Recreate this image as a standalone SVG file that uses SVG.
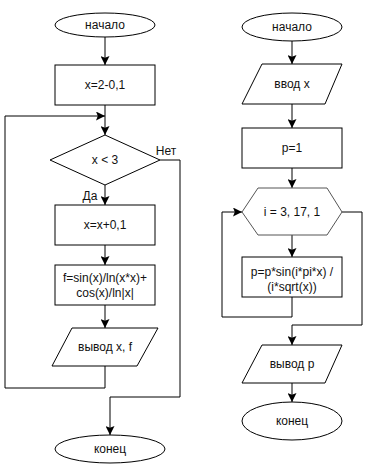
<svg xmlns="http://www.w3.org/2000/svg" width="375" height="469" viewBox="0 0 375 469">
<style>
.s{fill:#fff;stroke:#000;stroke-width:1}
.h{fill:#fff;stroke:#555;stroke-width:1}
.c{fill:none;stroke:#000;stroke-width:1}
text{font-family:"Liberation Sans",Arial,sans-serif;font-size:12px;fill:#111;text-anchor:middle;dominant-baseline:central}
</style>
<defs>
<marker id="a" markerUnits="userSpaceOnUse" markerWidth="9" markerHeight="9" viewBox="0 0 10 10" refX="10" refY="5" orient="auto">
<path d="M0,0 L10,5 L0,10 L2,5 z" fill="#000"/>
</marker>
</defs>
<rect width="375" height="469" fill="#fff"/>
<g id="connectors">
<path class="c" d="M105,37 V65" marker-end="url(#a)"/>
<path class="c" d="M105,105 V135" marker-end="url(#a)"/>
<path class="c" d="M105,366 V388 H5 V116 H105" marker-end="url(#a)"/>
<path class="c" d="M105,185 V205" marker-end="url(#a)"/>
<path class="c" d="M105,245 V265" marker-end="url(#a)"/>
<path class="c" d="M105,305 V328" marker-end="url(#a)"/>
<path class="c" d="M160,160 H180 V397 H110 V435" marker-end="url(#a)"/>
<path class="c" d="M292,41 V64" marker-end="url(#a)"/>
<path class="c" d="M292,104 V128" marker-end="url(#a)"/>
<path class="c" d="M292,168 V188" marker-end="url(#a)"/>
<path class="c" d="M292,235 V257" marker-end="url(#a)"/>
<path class="c" d="M292,297 V317 H222 V212 H242" marker-end="url(#a)"/>
<path class="c" d="M342,212 H362 V325 H292 V345" marker-end="url(#a)"/>
<path class="c" d="M292,383 V402" marker-end="url(#a)"/>
<text x="166" y="151">Нет</text>
<text x="90" y="196">Да</text>
</g>
<g id="start1"><ellipse class="s" cx="105" cy="25" rx="50" ry="12"/><text x="105" y="25">начало</text></g>
<g id="init"><rect class="s" x="55" y="65" width="100" height="40"/><text x="105" y="85">x=2-0,1</text></g>
<g id="cond"><path class="s" d="M105,135 L160,160 L105,185 L50,160 Z"/><text x="105" y="160">x &lt; 3</text></g>
<g id="inc"><rect class="s" x="55" y="205" width="100" height="40"/><text x="105" y="225">x=x+0,1</text></g>
<g id="calc"><rect class="s" x="55" y="265" width="100" height="40"/><text x="105" y="278">f=sin(x)/ln(x*x)+</text><text x="105" y="293">cos(x)/ln|x|</text></g>
<g id="out1"><path class="s" d="M72,328 H158 L137,366 H52 Z"/><text x="105" y="347">вывод x, f</text></g>
<g id="end1"><ellipse class="s" cx="110" cy="449" rx="55" ry="14"/><text x="110" y="449">конец</text></g>
<g id="start2"><ellipse class="s" cx="292" cy="27" rx="50" ry="14"/><text x="292" y="27">начало</text></g>
<g id="in2"><path class="s" d="M262,64 H342 L325,104 H242 Z"/><text x="292" y="84">ввод x</text></g>
<g id="p1"><rect class="s" x="242" y="128" width="100" height="40"/><text x="292" y="148">p=1</text></g>
<g id="loop"><path class="h" d="M242,212 L258,188 H327 L342,212 L327,235 H258 Z"/><text x="292" y="212">i = 3, 17, 1</text></g>
<g id="body"><rect class="s" x="242" y="257" width="100" height="40"/><text x="292" y="272">p=p*sin(i*pi*x) /</text><text x="292" y="287">(i*sqrt(x))</text></g>
<g id="out2"><path class="s" d="M262,345 H342 L325,383 H242 Z"/><text x="292" y="364">вывод p</text></g>
<g id="end2"><ellipse class="s" cx="292" cy="421" rx="50" ry="19"/><text x="292" y="421">конец</text></g>
</svg>
